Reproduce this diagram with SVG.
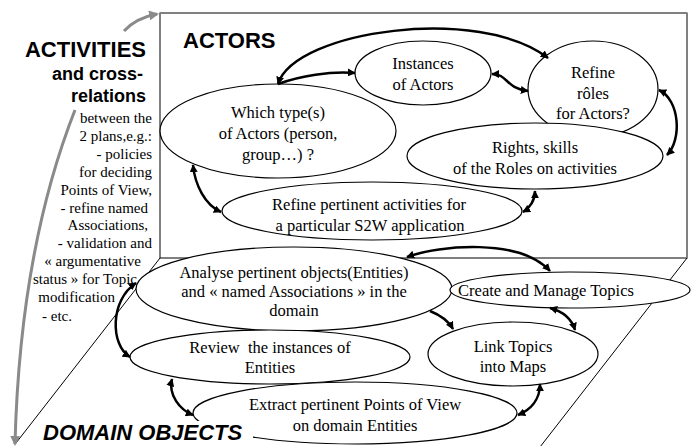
<svg xmlns="http://www.w3.org/2000/svg" width="695" height="446" viewBox="0 0 695 446">
<style>
.el{fill:#fff;stroke:#000;stroke-width:1.2}
.t{font-family:"Liberation Serif","Times New Roman",serif;font-size:16.5px;fill:#000;text-anchor:middle}
.s{font-family:"Liberation Serif","Times New Roman",serif;font-size:15px;fill:#000;text-anchor:end}
.h{font-family:"Liberation Sans",Arial,sans-serif;font-weight:bold;fill:#000}
.c{fill:none;stroke:#000;stroke-width:2.5}
.g{fill:none;stroke:#8a8a8a;stroke-width:3}
.pl{fill:none;stroke:#000;stroke-width:1}
</style>
<defs>
<marker id="ah" viewBox="0 0 10 10" markerWidth="8" markerHeight="8" refX="9" refY="5" orient="auto-start-reverse" markerUnits="userSpaceOnUse">
<path d="M0,0 L10,5 L0,10 z" fill="#000"/>
</marker>
<marker id="gh" viewBox="0 0 10 10" markerWidth="10" markerHeight="10" refX="8" refY="5" orient="auto-start-reverse" markerUnits="userSpaceOnUse">
<path d="M0,0 L10,5 L0,10 z" fill="#8a8a8a"/>
</marker>
</defs>
<rect width="695" height="446" fill="#fff"/>
<g id="planes">
<rect x="160" y="13" width="527" height="245" fill="#fff" stroke="#000" stroke-width="1"/>
<line x1="160" y1="13" x2="687" y2="13" stroke="#808080" stroke-width="1.8"/>
<line x1="687" y1="13" x2="687" y2="258" stroke="#808080" stroke-width="1.8"/>
<line class="pl" x1="160" y1="258" x2="16" y2="443"/>
<line class="pl" x1="687" y1="258" x2="540" y2="447"/>
</g>
<g id="gray-arrows">
<path class="g" d="M124,31 Q136,18 157,14" marker-end="url(#gh)"/>
<path class="g" d="M75,110 Q20,250 15,444" marker-end="url(#gh)"/>
</g>
<g id="n-which"><ellipse class="el" cx="278" cy="131" rx="118" ry="47"/>
<text class="t" x="278" y="118">Which type(s)</text><text class="t" x="278" y="139">of Actors (person,</text><text class="t" x="278" y="160">group…) ?</text></g>
<g id="n-instances"><ellipse class="el" cx="423" cy="73" rx="68" ry="32"/>
<text class="t" x="423" y="69">Instances</text><text class="t" x="423" y="90">of Actors</text></g>
<g id="n-roles"><ellipse class="el" cx="593" cy="89" rx="65" ry="48"/>
<text class="t" x="593" y="78">Refine</text><text class="t" x="593" y="99">rôles</text><text class="t" x="593" y="119">for Actors?</text></g>
<g id="n-rights"><ellipse class="el" cx="535" cy="156" rx="128" ry="33"/>
<text class="t" x="535" y="153">Rights, skills</text><text class="t" x="535" y="174">of the Roles on activities</text></g>
<g id="n-activities"><ellipse class="el" cx="372" cy="211" rx="150" ry="29"/>
<text class="t" x="369" y="210">Refine pertinent activities for</text><text class="t" x="370" y="231">a particular S2W application</text></g>
<g id="n-analyse"><ellipse class="el" cx="294" cy="289" rx="158" ry="42"/>
<text class="t" x="294" y="278">Analyse pertinent objects(Entities)</text><text class="t" x="294" y="297">and « named Associations » in the</text><text class="t" x="294" y="316">domain</text></g>
<g id="n-create"><ellipse class="el" cx="570" cy="290" rx="120" ry="18"/>
<text class="t" x="546" y="296">Create and Manage Topics</text></g>
<g id="n-review"><ellipse class="el" cx="270" cy="357" rx="140" ry="27"/>
<text class="t" x="270" y="353" xml:space="preserve">Review  the instances of</text><text class="t" x="270" y="373">Entities</text></g>
<g id="n-link"><ellipse class="el" cx="513" cy="354" rx="85" ry="32"/>
<text class="t" x="513" y="352">Link Topics</text><text class="t" x="513" y="372">into Maps</text></g>
<g id="n-extract"><ellipse class="el" cx="355" cy="413" rx="162" ry="31"/>
<text class="t" x="355" y="410">Extract pertinent Points of View</text><text class="t" x="355" y="431">on domain Entities</text></g>
<g id="connectors">
<path class="c" d="M278,84 C295,30 480,5 548,58" marker-start="url(#ah)" marker-end="url(#ah)"/>
<path class="c" d="M278,84 C300,76 330,71 355,73" marker-end="url(#ah)"/>
<path class="c" d="M492,74 C508,74 505,88 528,91" marker-start="url(#ah)" marker-end="url(#ah)"/>
<path class="c" d="M659,90 C680,100 682,140 667,155" marker-start="url(#ah)" marker-end="url(#ah)"/>
<path class="c" d="M535,191 C535,200 530,208 523,212" marker-start="url(#ah)" marker-end="url(#ah)"/>
<path class="c" d="M193,165 C195,185 205,205 221,212" marker-start="url(#ah)" marker-end="url(#ah)"/>
<path class="c" d="M407,257 C440,245 520,238 550,271" marker-start="url(#ah)" marker-end="url(#ah)"/>
<path class="c" d="M430,311 C440,315 448,320 453,329" marker-end="url(#ah)"/>
<path class="c" d="M550,308 C565,312 572,320 575,330" marker-start="url(#ah)" marker-end="url(#ah)"/>
<path class="c" d="M540,384 C540,400 530,410 518,415" marker-start="url(#ah)" marker-end="url(#ah)"/>
<path class="c" d="M172,379 C168,395 180,410 193,415" marker-start="url(#ah)" marker-end="url(#ah)"/>
<path class="c" d="M136,283 C110,300 110,345 130,357" marker-start="url(#ah)" marker-end="url(#ah)"/>
</g>
<g id="labels">
<text class="h" x="183" y="48" font-size="22">ACTORS</text>
<text class="h" x="146" y="57" font-size="22" text-anchor="end">ACTIVITIES</text>
<text class="h" x="143" y="80" font-size="18" text-anchor="end">and cross-</text>
<text class="h" x="146" y="102" font-size="18" text-anchor="end">relations</text>
<text class="s" x="152" y="123">between the</text>
<text class="s" x="152" y="141">2 plans,e.g.:</text>
<text class="s" x="152" y="159">- policies</text>
<text class="s" x="152" y="177">for deciding</text>
<text class="s" x="152" y="195">Points of View,</text>
<text class="s" x="148" y="213">- refine named</text>
<text class="s" x="148" y="230">Associations,</text>
<text class="s" x="152" y="248">- validation and</text>
<text class="s" x="141" y="266">« argumentative</text>
<text class="s" x="137" y="284">status » for Topic</text>
<text class="s" x="115" y="302">modification</text>
<text class="s" x="72" y="321">- etc.</text>
<rect x="40" y="421" width="213" height="25" fill="#fff"/>
<text class="h" x="43" y="440" font-size="22" font-style="italic">DOMAIN OBJECTS</text>
</g>
</svg>
